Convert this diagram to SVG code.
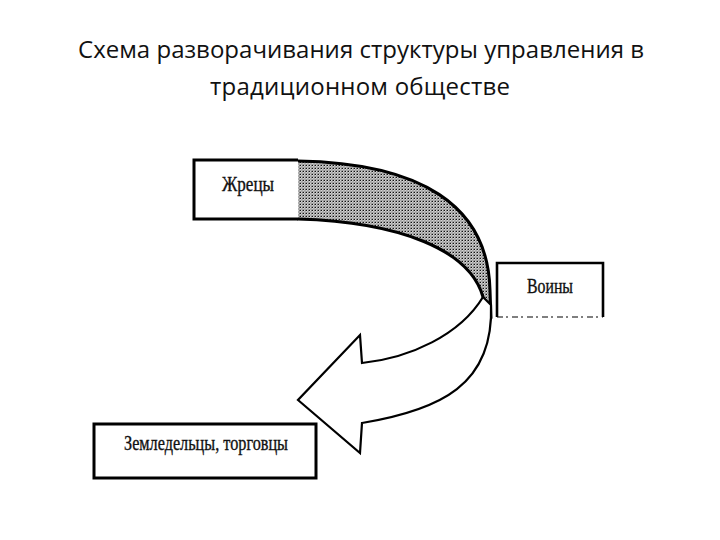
<svg xmlns="http://www.w3.org/2000/svg" width="720" height="540" viewBox="0 0 720 540">
  <style>
    .title { font-family: "Open Sans", "Liberation Sans", sans-serif; font-size: 24px; fill: #111; text-anchor: middle; }
    .lbl { font-family: "Liberation Serif", "DejaVu Serif", serif; font-size: 20px; fill: #111; stroke: #111; stroke-width: 0.35; text-anchor: middle; }
    .box { fill: #fff; stroke: #000; stroke-width: 3; }
    .edge { fill: none; stroke: #000; stroke-width: 3; stroke-linecap: round; }
  </style>
  <defs>
    <pattern id="stip" width="3" height="3" patternUnits="userSpaceOnUse">
      <rect width="3" height="3" fill="#d4d4d4"/>
      <rect x="0" y="0" width="1" height="1" fill="#111"/>
      <rect x="1.5" y="1.5" width="1" height="1" fill="#333"/>
      <rect x="2" y="0" width="1" height="1" fill="#777"/>
      <rect x="0" y="2" width="1" height="1" fill="#999"/>
    </pattern>
  </defs>
  <rect width="720" height="540" fill="#fff"/>

  <g id="title">
    <text class="title" x="361" y="58" textLength="566" lengthAdjust="spacing">Схема разворачивания структуры управления в</text>
    <text class="title" x="360" y="95" textLength="300" lengthAdjust="spacing">традиционном обществе</text>
  </g>

  <g id="connectors">
    <path id="band" d="M298,161 C420,163 488,205 490,290 L491,322 C489,310 486,303 483,297 C470,250 400,222 298,219 Z" fill="url(#stip)" stroke="none"/>
    <path class="edge" d="M298,161 C420,163 488,205 490,290 L491,318"/>
    <path class="edge" d="M298,219 C400,222 470,250 483,297 L489,316"/>
    <path id="arrow" d="M483,297 C460,335 410,358 362,363 L360,335 L298,400 L360,453 L362,423 C440,410 494,385 491,305 Z" fill="#fff" stroke="#000" stroke-width="2.2" stroke-linejoin="miter"/>
  </g>

  <g id="zhretsy">
    <path d="M298,160 L194,160 L194,219 L298,219" fill="#fff" stroke="#000" stroke-width="3"/>
    <text class="lbl" x="248" y="191" textLength="52" lengthAdjust="spacingAndGlyphs">Жрецы</text>
  </g>

  <g id="voiny">
    <rect x="497" y="263" width="106" height="54" fill="#fff" stroke="none"/>
    <path d="M497,317 L497,263 L603,263 L603,317" fill="none" stroke="#000" stroke-width="2.6"/>
    <line x1="497" y1="317" x2="603" y2="317" stroke="#000" stroke-width="1.2" stroke-dasharray="6,3,2,4"/>
    <text class="lbl" x="550" y="293" textLength="46" lengthAdjust="spacingAndGlyphs">Воины</text>
  </g>

  <g id="zemledeltsy">
    <rect class="box" x="94" y="424" width="222" height="54" stroke-width="2.6"/>
    <text class="lbl" x="206" y="450" textLength="164" lengthAdjust="spacingAndGlyphs">Земледельцы, торговцы</text>
  </g>
</svg>
